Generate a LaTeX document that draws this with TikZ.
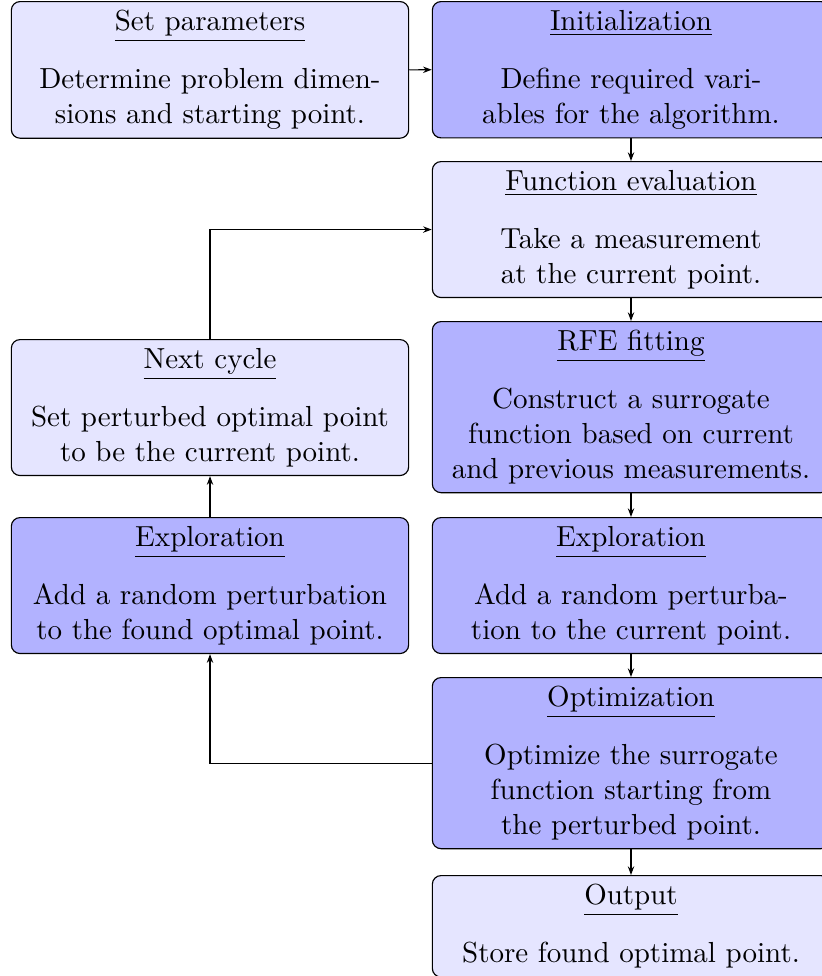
\documentclass[tikz,border=0pt]{standalone}
\usetikzlibrary{arrows.meta}
\begin{document}
\begin{tikzpicture}[
  x=0.3448pt, y=-0.3448pt,
  stepbox/.style={draw=black, line width=0.4pt, rounded corners=3pt,
    text width=128pt, align=center, inner xsep=4.5pt, inner ysep=3pt,
    anchor=north},
  lightbox/.style={stepbox, fill=blue!10},
  darkbox/.style={stepbox, fill=blue!30},
  arr/.style={draw=black, line width=0.4pt, -{Stealth[length=3pt,width=2.2pt]}}
]
\useasboundingbox (0,0) rectangle (821,976);

% right column: main sequence
\node[darkbox]  (init) at (631,1)   {\underline{Initialization}\\[8pt]Define required vari-\\ables for the algorithm.};
\node[lightbox] (feval) at (631,161) {\underline{Function evaluation}\\[8pt]Take a measurement\\at the current point.};
\node[darkbox]  (rfe) at (631,321)   {\underline{RFE fitting}\\[8pt]Construct a surrogate\\function based on current\\and previous measurements.};
\node[darkbox]  (explr) at (631,517) {\underline{Exploration}\\[8pt]Add a random perturba-\\tion to the current point.};
\node[darkbox]  (optim) at (631,677) {\underline{Optimization}\\[8pt]Optimize the surrogate\\function starting from\\the perturbed point.};
\node[lightbox] (output) at (631,875) {\underline{Output}\\[8pt]Store found optimal point.};

% left column: setup and loop back
\node[lightbox] (setp) at (210,1)    {\underline{Set parameters}\\[8pt]Determine problem dimen-\\sions and starting point.};
\node[lightbox] (next) at (210,339)  {\underline{Next cycle}\\[8pt]Set perturbed optimal point\\to be the current point.};
\node[darkbox]  (expll) at (210,517) {\underline{Exploration}\\[8pt]Add a random perturbation\\to the found optimal point.};

% connectors
\draw[arr] (setp.east) -- (init.west);
\draw[arr] (init.south) -- (feval.north);
\draw[arr] (feval.south) -- (rfe.north);
\draw[arr] (rfe.south) -- (explr.north);
\draw[arr] (explr.south) -- (optim.north);
\draw[arr] (optim.south) -- (output.north);
\draw[arr] (optim.west) -| (expll.south);
\draw[arr] (expll.north) -- (next.south);
\draw[arr] (next.north) |- (feval.west);
\end{tikzpicture}
\end{document}
